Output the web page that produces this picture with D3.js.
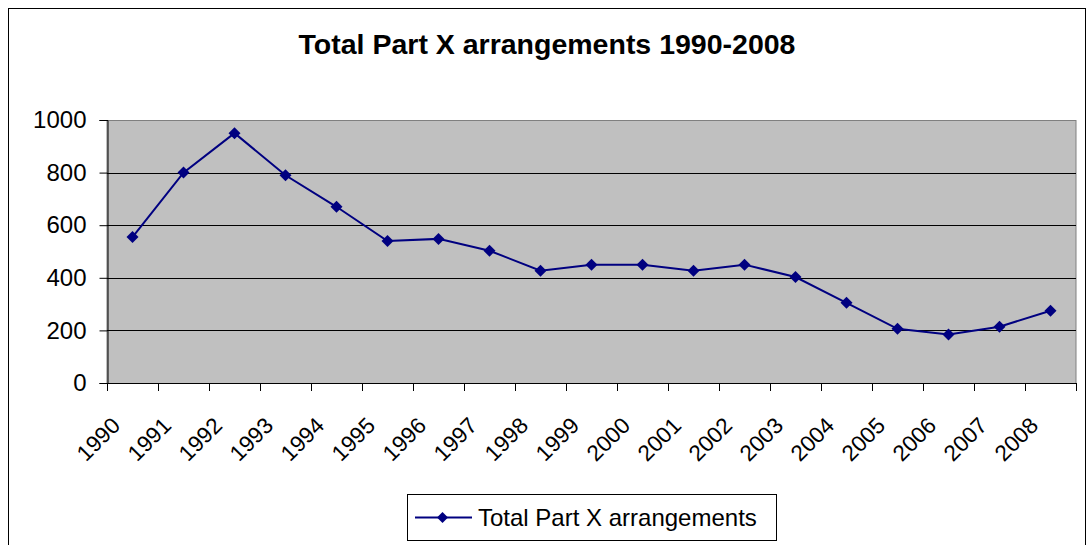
<!DOCTYPE html>
<html>
<head>
<meta charset="utf-8">
<script src="https://cdn.jsdelivr.net/npm/d3@7"></script>
<style>
  body { margin: 0; background: #fff; }
  svg { font-family: "Liberation Sans", Arial, sans-serif; }
</style>
</head>
<body>
<svg id="svg" width="1089" height="545"></svg>
<script>
// data
var years = ["1990","1991","1992","1993","1994","1995","1996","1997","1998","1999",
             "2000","2001","2002","2003","2004","2005","2006","2007","2008"];
var totals = [555, 800, 950, 790, 670, 540, 548, 503, 427, 450,
              450, 427, 450, 403, 305, 206, 184, 214, 275];
var yTicks = [0, 200, 400, 600, 800, 1000];
var seriesName = "Total Part X arrangements";
var chartTitle = "Total Part X arrangements 1990-2008";

var svg = d3.select("#svg");
var plot = {left: 107, top: 120, right: 1076, bottom: 383};
var navy = "#000080";

// outer chart border
svg.append("rect")
  .attr("x", 8.5).attr("y", 8.5)
  .attr("width", 1077).attr("height", 560)
  .attr("fill", "#fff").attr("stroke", "#000").attr("stroke-width", 1);

svg.append("text")
  .attr("x", 547).attr("y", 54)
  .attr("text-anchor", "middle")
  .attr("font-size", 28.5).attr("font-weight", "bold")
  .text(chartTitle);

var x = d3.scaleBand().domain(years).range([plot.left, plot.right]);
var y = d3.scaleLinear().domain([0, 1000]).range([plot.bottom, plot.top]);

// plot area background
svg.append("rect")
  .attr("x", plot.left).attr("y", plot.top + 0.5)
  .attr("width", plot.right - plot.left).attr("height", plot.bottom - plot.top)
  .attr("fill", "#C0C0C0").attr("stroke", "#808080").attr("stroke-width", 1);

// gridlines
svg.append("g").selectAll("line")
  .data(yTicks.filter(d => d > 0 && d < 1000))
  .enter().append("line")
  .attr("x1", plot.left).attr("x2", plot.right)
  .attr("y1", d => Math.round(y(d)) + 0.5).attr("y2", d => Math.round(y(d)) + 0.5)
  .attr("stroke", "#000").attr("stroke-width", 1);

// y axis
var yAxis = svg.append("g")
  .attr("transform", "translate(" + (plot.left + 0.5) + ",0)")
  .call(d3.axisLeft(y).tickValues(yTicks).tickFormat(d3.format("d")).tickSize(8).tickPadding(13));
yAxis.select(".domain").attr("stroke", "#000");
yAxis.selectAll(".tick line").attr("stroke", "#000");
yAxis.selectAll("text").attr("font-size", 24).attr("fill", "#000")
  .attr("font-family", "Liberation Sans, Arial, sans-serif");

// x axis: ticks at category boundaries
var xg = svg.append("g");
xg.append("line")
  .attr("x1", plot.left).attr("x2", plot.right)
  .attr("y1", plot.bottom + 0.5).attr("y2", plot.bottom + 0.5)
  .attr("stroke", "#000");
var bounds = years.map(d => x(d)).concat([plot.right]);
xg.selectAll(".xt").data(bounds).enter().append("line")
  .attr("x1", d => Math.round(d) + 0.5).attr("x2", d => Math.round(d) + 0.5)
  .attr("y1", plot.bottom).attr("y2", plot.bottom + 8)
  .attr("stroke", "#000");
xg.selectAll(".xl").data(years).enter().append("text")
  .attr("text-anchor", "end")
  .attr("font-size", 22.5)
  .attr("transform", d => "translate(" + (x(d) + x.bandwidth() / 2 - 11) + "," + (plot.bottom + 44) + ") rotate(-45)")
  .text(d => d);

// series line
var line = d3.line()
  .x((d, i) => x(years[i]) + x.bandwidth() / 2)
  .y(d => y(d));
svg.append("path")
  .datum(totals)
  .attr("d", line)
  .attr("fill", "none").attr("stroke", navy).attr("stroke-width", 2);

var diamond = d3.symbol().type(d3.symbolSquare).size(72);
svg.append("g").selectAll("path")
  .data(totals).enter().append("path")
  .attr("d", diamond)
  .attr("transform", (d, i) => "translate(" + (x(years[i]) + x.bandwidth() / 2) + "," + y(d) + ") rotate(45)")
  .attr("fill", navy);

// legend
var lg = svg.append("g");
lg.append("rect")
  .attr("x", 407.5).attr("y", 494.5).attr("width", 369).attr("height", 46)
  .attr("fill", "#fff").attr("stroke", "#000");
lg.append("line")
  .attr("x1", 415).attr("x2", 472).attr("y1", 517.5).attr("y2", 517.5)
  .attr("stroke", navy).attr("stroke-width", 2);
lg.append("path")
  .attr("d", d3.symbol().type(d3.symbolSquare).size(60)())
  .attr("transform", "translate(442.5,517.5) rotate(45)")
  .attr("fill", navy);
lg.append("text")
  .attr("x", 478).attr("y", 526)
  .attr("font-size", 24)
  .text(seriesName);
</script>
</body>
</html>
